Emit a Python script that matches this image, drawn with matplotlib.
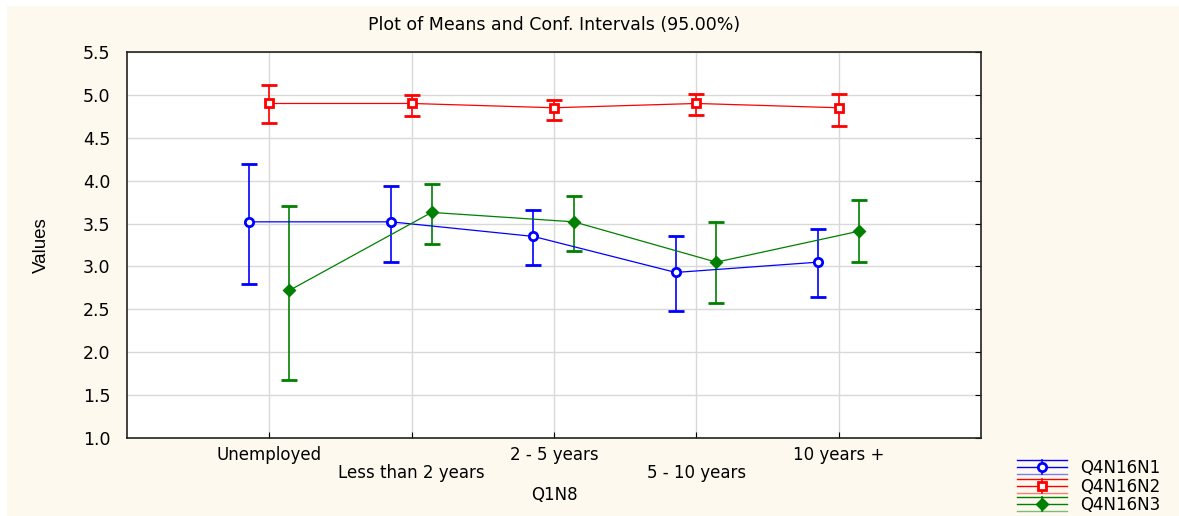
import numpy as np
import matplotlib
matplotlib.use("Agg")
import matplotlib.pyplot as plt
from matplotlib.patches import Rectangle
from matplotlib.lines import Line2D
from matplotlib.legend_handler import HandlerBase

categories = ["Unemployed", "Less than 2 years", "2 - 5 years", "5 - 10 years", "10 years +"]
series_names = ["Q4N16N1", "Q4N16N2", "Q4N16N3"]

# means with lower / upper 95% confidence limits
n1_mean = [3.52, 3.52, 3.35, 2.93, 3.05]
n1_low = [2.79, 3.05, 3.02, 2.48, 2.64]
n1_high = [4.19, 3.94, 3.66, 3.35, 3.44]

n2_mean = [4.90, 4.90, 4.85, 4.90, 4.85]
n2_low = [4.67, 4.75, 4.71, 4.76, 4.64]
n2_high = [5.12, 5.00, 4.94, 5.01, 5.01]

n3_mean = [2.72, 3.63, 3.52, 3.05, 3.41]
n3_low = [1.68, 3.26, 3.18, 2.57, 3.05]
n3_high = [3.71, 3.96, 3.82, 3.52, 3.77]


class MeanCIHandler(HandlerBase):
    # legend key: line with marker, short whisker and two horizontal limit lines
    def create_artists(self, legend, orig_handle, xdescent, ydescent, width, height, fontsize, trans):
        col = orig_handle.get_color()
        yc = height / 2 - ydescent
        x0, x1, xm = -xdescent, width - xdescent, width / 2 - xdescent
        arts = []
        for dy, alpha in ((-height * 0.55, 0.5), (height * 0.55, 1.0)):
            arts.append(Line2D([x0, x1], [yc + dy, yc + dy], color=col, lw=1.0,
                               alpha=alpha, transform=trans))
        arts.append(Line2D([xm, xm], [yc - height * 0.55, yc + height * 0.55],
                           color=col, lw=1.2, transform=trans))
        arts.append(Line2D([x0, xm, x1], [yc, yc, yc], color=col, lw=1.0,
                           marker=orig_handle.get_marker(), ms=orig_handle.get_markersize(),
                           mfc=orig_handle.get_markerfacecolor(), mec=col, mew=2,
                           markevery=[1], transform=trans))
        return arts


plt.rcParams['font.family'] = ['DejaVu Sans']

fig = plt.figure(figsize=(11.79, 5.16), dpi=100, facecolor='white')
fig.patches.append(Rectangle((7 / 1179, 0), 1, 1 - 6 / 516, transform=fig.transFigure,
                             facecolor='#fef9ee', edgecolor='none', zorder=-10))

ax = fig.add_axes([127 / 1179, 1 - 438 / 516, (981 - 127) / 1179, (438 - 52) / 516])
ax.set_facecolor('white')

x = np.arange(len(categories))
styles = [
    (n1_mean, n1_low, n1_high, -0.145, 'blue', 'o', 'white'),
    (n2_mean, n2_low, n2_high, 0.0, 'red', 's', 'white'),
    (n3_mean, n3_low, n3_high, 0.14, 'green', 'D', 'green'),
]
keys = []
for (m, lo, hi, off, col, mk, mfc), name in zip(styles, series_names):
    m = np.array(m)
    err = [m - np.array(lo), np.array(hi) - m]
    ms = 6 if mk != 'D' else 5
    ax.errorbar(x + off, m, yerr=err, color=col, lw=0.9, elinewidth=1.2,
                capsize=5.5, capthick=0.9, marker=mk, ms=ms,
                mfc=mfc, mec=col, mew=2, zorder=3)
    keys.append(Line2D([], [], color=col, marker=mk, ms=ms, mfc=mfc))

ax.set_xlim(-1, 5)
ax.set_ylim(1.0, 5.5)
ax.set_yticks(np.arange(1.0, 5.51, 0.5))
ax.set_yticklabels([f"{v:.1f}" for v in np.arange(1.0, 5.51, 0.5)], fontsize=12.5)
ax.set_xticks(x)
ax.set_xticklabels([c if i % 2 == 0 else "\n" + c for i, c in enumerate(categories)],
                   fontsize=12, linespacing=0.95)
ax.tick_params(direction='in', right=True, length=4, pad=6)
ax.tick_params(axis='y', left=False, pad=12)
ax.grid(True, color='#d9d9d9', lw=1)
ax.set_axisbelow(True)
for s in ax.spines.values():
    s.set_color('#222222')
    s.set_linewidth(1.2)

ax.set_xlabel("Q1N8", fontsize=12, labelpad=3)
ax.set_ylabel("Values", fontsize=13.5, family='Liberation Sans', labelpad=24)
ax.set_title("Plot of Means and Conf. Intervals (95.00%)", fontsize=12.5, pad=16)

fig.legend(handles=keys, labels=series_names, loc='lower right',
           handler_map={Line2D: MeanCIHandler()},
           bbox_to_anchor=(0.997, -0.025), frameon=False, fontsize=12,
           handlelength=3.0, handleheight=0.8, labelspacing=0.02, handletextpad=0.8)

fig.savefig("out.png", dpi=100)
